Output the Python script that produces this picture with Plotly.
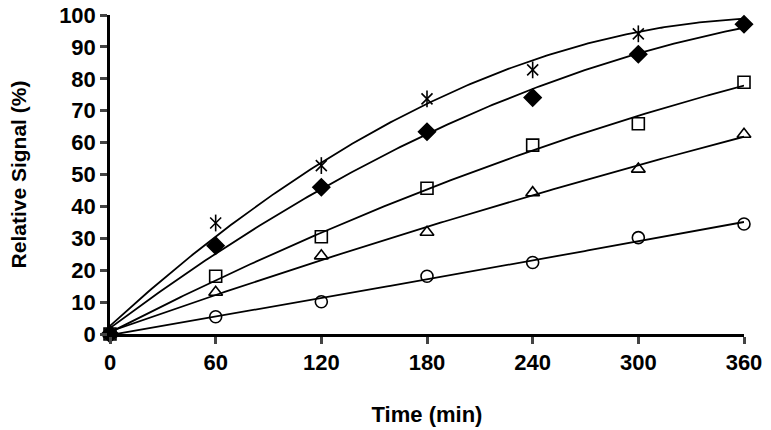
import numpy as np
import plotly.graph_objects as go

time_min = [0, 60, 120, 180, 240, 300, 360]
star_vals = [0, 34.8, 52.8, 73.7, 82.8, 94.1, 100.2]
diamond_vals = [0, 27.7, 46.0, 63.4, 74.1, 87.7, 97.1]
square_vals = [0, 18.1, 30.5, 45.7, 59.2, 65.9, 78.9]
triangle_vals = [0, 13.1, 24.5, 31.9, 44.3, 51.7, 62.6]
circle_vals = [0, 5.4, 10.1, 18.1, 22.4, 30.2, 34.5]

x_ticks = [0, 60, 120, 180, 240, 300, 360]
y_ticks = list(range(0, 101, 10))

FONT = "Liberation Sans, Arial, sans-serif"

fig = go.Figure()

# quadratic trendlines fitted to each series
xs = np.linspace(0, 360, 200)
for vals in [star_vals, diamond_vals, square_vals, triangle_vals, circle_vals]:
    coef = np.polyfit(time_min, vals, 2)
    fig.add_trace(go.Scatter(
        x=xs, y=np.polyval(coef, xs), mode="lines",
        line=dict(color="black", width=1.8), showlegend=False, hoverinfo="skip",
    ))

# star drawn last so it sits on top of the diamonds
markers = [
    (circle_vals, "circle-open", 12),
    (triangle_vals, "triangle-up-open", 12),
    (square_vals, "square-open", 12),
    (diamond_vals, "diamond", 13),
    (star_vals, "x-thin-open", 11),
    (star_vals, "line-ns-open", 12),
]
for vals, sym, size in markers:
    fig.add_trace(go.Scatter(
        x=time_min, y=vals, mode="markers", cliponaxis=False,
        marker=dict(symbol=sym, size=size, color="black",
                    line=dict(color="black", width=1.6)),
        showlegend=False,
    ))

fig.update_layout(
    width=771, height=430,
    margin=dict(l=110, r=27, t=15, b=96),
    paper_bgcolor="white", plot_bgcolor="white",
    font=dict(family=FONT, color="black"),
)
fig.update_xaxes(
    range=[0, 360], tickvals=x_ticks, ticks="outside", ticklen=7, tickwidth=2.5,
    showline=True, linewidth=2.5, linecolor="black", showgrid=False, zeroline=False,
    automargin=False, ticklabeloverflow="allow", tickfont=dict(size=22, weight="bold"),
    title=dict(text="Time (min)", font=dict(size=22, weight="bold"), standoff=33),
)
fig.update_yaxes(
    range=[0, 100], tickvals=y_ticks, ticks="outside", ticklen=7, tickwidth=2.5,
    showline=True, linewidth=2.5, linecolor="black", showgrid=False, zeroline=False,
    automargin=False, ticklabeloverflow="allow", tickfont=dict(size=22, weight="bold"),
    title=dict(text="Relative Signal (%)", font=dict(size=21, weight="bold"), standoff=27),
)

# drop the default 8px body margin so the figure sits at the window origin
fig.write_html(
    "out.html",
    config={"displayModeBar": False},
    post_script="document.body.style.margin = '0';",
)
